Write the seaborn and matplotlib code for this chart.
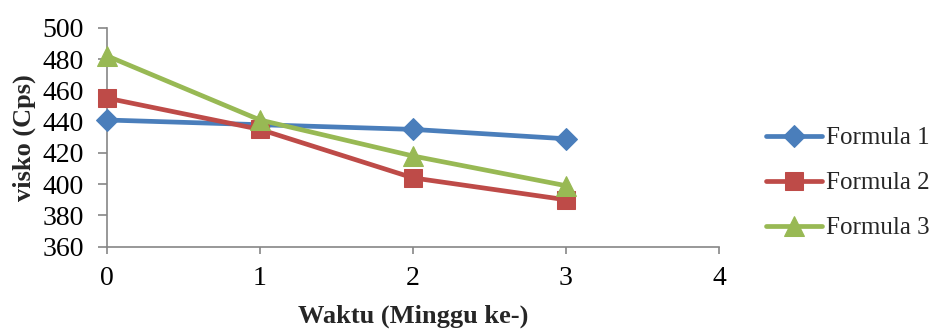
import numpy as np
import pandas as pd
import matplotlib
matplotlib.use("Agg")
import matplotlib.pyplot as plt
import seaborn as sns

# Viscosity over storage time (weeks)
weeks = [0, 1, 2, 3]
formula_1 = [441, 438, 435, 429]
formula_2 = [455, 435, 404, 390]
formula_3 = [482, 441, 418, 399]
series_names = ["Formula 1", "Formula 2", "Formula 3"]

df = pd.DataFrame({
    "week": weeks * 3,
    "visko": formula_1 + formula_2 + formula_3,
    "formula": [n for n in series_names for _ in weeks],
})

sns.set_theme(style="white")
plt.rcParams["font.family"] = ["Liberation Serif", "DejaVu Serif"]

colors = {"Formula 1": "#4A7EBB", "Formula 2": "#BE4B48", "Formula 3": "#98B954"}
markers = {"Formula 1": "D", "Formula 2": "s", "Formula 3": "^"}
msize = {"Formula 1": 11, "Formula 2": 12.5, "Formula 3": 14}

fig = plt.figure(figsize=(9.36, 3.30), dpi=100)
ax = fig.add_axes([0.1143, 0.2524, 0.6538, 0.6636])

for name in series_names:
    sub = df[df["formula"] == name]
    sns.lineplot(data=sub, x="week", y="visko", ax=ax, color=colors[name],
                 marker=markers[name], markersize=msize[name],
                 markeredgecolor=colors[name], linewidth=3.4, label=name,
                 clip_on=False, zorder=3)

ax.set_xlim(0, 4)
ax.set_ylim(360, 500)
ax.set_xticks([0, 1, 2, 3, 4])
ax.set_yticks(np.arange(360, 501, 20))

axis_gray = "#868686"
for side in ["top", "right"]:
    ax.spines[side].set_visible(False)
for side in ["left", "bottom"]:
    ax.spines[side].set_color(axis_gray)
    ax.spines[side].set_linewidth(1.2)
    ax.spines[side].set_zorder(1)

ax.tick_params(axis="both", which="major", direction="out",
               width=1.2, color=axis_gray, labelsize=20, labelcolor="black",
               bottom=True, left=True)
ax.tick_params(axis="x", length=5, pad=9)
ax.tick_params(axis="y", length=6.5, pad=10)

ax.set_xlabel("Waktu (Minggu ke-)", fontsize=19, fontweight="bold", labelpad=10)
ax.set_ylabel("visko (Cps)", fontsize=19, fontweight="bold", labelpad=5)

leg = ax.legend(loc="center left", bbox_to_anchor=(1.077, 0.29), frameon=False,
                fontsize=18, handlelength=2.25, handletextpad=0.15,
                labelspacing=0.9, borderaxespad=0, borderpad=0)

fig.savefig("out.png", dpi=100, facecolor="white")
